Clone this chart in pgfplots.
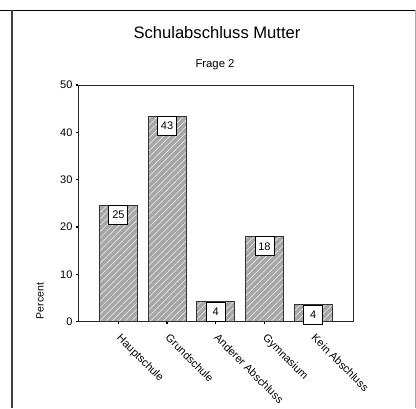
\documentclass[border=0pt]{standalone}
\usepackage{pgfplots}
\pgfplotsset{compat=1.18}
\usepackage{fontspec}
\setmainfont{Liberation Sans}
\usetikzlibrary{patterns.meta}
\begin{document}
\begin{tikzpicture}
% outer frame, also fixes the page size
\useasboundingbox (0pt,0pt) rectangle (416pt,408pt);
\draw[line width=0.6pt, black] (0pt,398pt) -- (416pt,398pt);
\draw[line width=1.3pt, black!75] (12pt,398pt) -- (12pt,0pt);
\draw[line width=0.8pt, black!35] (415pt,398pt) -- (415pt,0pt);
\node[font=\fontsize{16.6}{19}\selectfont] at (217pt,375pt) {Schulabschluss Mutter};
\node[font=\fontsize{11.3}{13}\selectfont] at (215pt,343pt) {Frage 2};
\begin{axis}[
  at={(78pt,86.3pt)}, anchor=south west,
  scale only axis,
  width=275pt, height=236.7pt,
  ymin=0, ymax=50,
  xmin=-0.83, xmax=4.82,
  ytick={0,10,20,30,40,50},
  xtick={0,1,2,3,4},
  xtick pos=left, ytick pos=left,
  xticklabels={Hauptschule, Grundschule, Anderer Abschluss, Gymnasium, Kein Abschluss},
  x tick label style={rotate=-45, anchor=north west, font=\fontsize{11}{13}\selectfont, inner sep=1pt, xshift=8pt, yshift=-3pt},
  y tick label style={font=\fontsize{11}{13}\selectfont},
  /pgf/number format/assume math mode=true,
  tick align=outside,
  major tick length=2pt,
  tick style={line width=1.2pt, black},
  axis line style={line width=0.8pt, black!85},
  ylabel={Percent},
  ylabel style={font=\fontsize{10.5}{12}\selectfont, at={(axis description cs:-0.138,0.087)}, anchor=center},
  ybar, bar width=38pt,
  nodes near coords,
  nodes near coords align={below},
  every node near coord/.append style={draw=black, fill=white, line width=0.8pt,
    anchor=north, font=\fontsize{11}{13}\selectfont, inner sep=3pt,
    minimum height=19pt, minimum width=19pt, /pgf/number format/fixed, /pgf/number format/precision=0,
    /pgf/number format/assume math mode=true},
]
\addplot[fill=gray!70, draw=black!80, line width=0.8pt,
  postaction={pattern={Lines[angle=45, distance=4.5pt, line width=0.7pt]}, pattern color=white!80!gray}]
  coordinates {(0,24.6) (1,43.4) (2,4.2) (3,18.0) (4,3.6)};
\end{axis}
\end{tikzpicture}
\end{document}
